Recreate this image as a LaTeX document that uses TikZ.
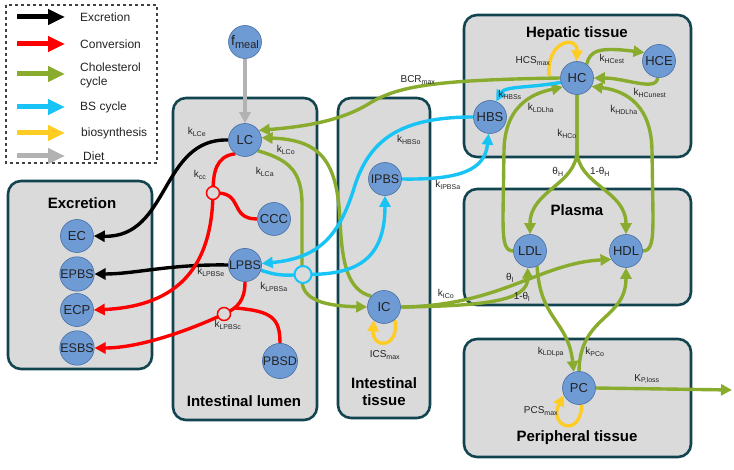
\documentclass[tikz,border=0pt]{standalone}
\usepackage{fontspec}
\setmainfont{Liberation Sans}
\usetikzlibrary{arrows.meta}
\definecolor{cgreen}{RGB}{138,172,46}
\definecolor{cblue}{RGB}{24,196,245}
\definecolor{cyel}{RGB}{255,204,36}
\definecolor{cred}{RGB}{255,0,0}
\definecolor{cgray}{RGB}{178,178,178}
\definecolor{boxfill}{RGB}{218,218,218}
\definecolor{boxline}{RGB}{18,68,80}
\definecolor{nodefill}{RGB}{111,155,212}
\definecolor{nodeedge}{RGB}{70,110,165}
\definecolor{txt}{RGB}{35,35,35}
\pgfdeclarelayer{bg}
\pgfdeclarelayer{mid}
\pgfsetlayers{bg,mid,main}
\begin{document}
\begin{tikzpicture}[x=1pt,y=1pt,
  region/.style={draw=boxline, line width=2.6pt, fill=boxfill, rounded corners=13pt},
  legbox/.style={draw=black!75, line width=1.3pt, dash pattern=on 3pt off 3pt},
  cmp/.style={circle, fill=nodefill, draw=nodeedge, line width=0.6pt, minimum size=33pt, inner sep=0pt, font=\fontsize{13}{13}\selectfont, text=txt},
  cmps/.style={cmp, font=\fontsize{12.5}{12.5}\selectfont},
  title/.style={font=\fontsize{15}{17}\selectfont\bfseries, text=black, align=center},
  rate/.style={font=\fontsize{10}{10}\selectfont, inner sep=0pt, text=txt},
  legtext/.style={font=\fontsize{12}{14}\selectfont, anchor=west, align=left, text=txt, inner sep=0pt},
  flow/.style={line width=3.4pt, -{Triangle[length=11pt,width=11pt]}},
  plain/.style={line width=3.4pt},
  legarrow/.style={line width=5pt, -{Triangle[length=17pt,width=15pt]}},
  rjunc/.style={circle, draw=cred, line width=1.5pt, fill=boxfill, minimum size=13pt, inner sep=0pt},
  bjunc/.style={circle, draw=cblue, line width=2pt, fill=boxfill, minimum size=17pt, inner sep=0pt}
]
\useasboundingbox (0,0) rectangle (734,-470);
\begin{pgfonlayer}{bg}
  \draw[region] (8,-181) rectangle (152,-369);
  \draw[region] (173,-98) rectangle (317,-420);
  \draw[region] (338,-98) rectangle (430,-418);
  \draw[region] (464,-15) rectangle (691,-157);
  \draw[region] (464,-189) rectangle (691,-305);
  \draw[region] (464,-339) rectangle (691,-457);
  \draw[legbox] (6,-5) rectangle (157,-163);
\end{pgfonlayer}

% legend
\foreach \y/\c/\n in {17/black/1, 44/cred/2, 74/cgreen/3, 107/cblue/4, 133/cyel/5, 156/cgray/6} {
  \coordinate (ls\n) at (17,-\y);
  \coordinate (le\n) at (65,-\y);
  \draw[legarrow, \c] (ls\n) -- (le\n);
}
\node[legtext] (lt1) at (80,-17) {Excretion};
\node[legtext] (lt2) at (80,-44) {Conversion};
\node[legtext] (lt3) at (80,-75) {Cholesterol\\cycle};
\node[legtext] (lt4) at (80,-107) {BS cycle};
\node[legtext] (lt5) at (81,-133) {biosynthesis};
\node[legtext] (lt6) at (83,-156) {Diet};

% titles
\node[title] (tEx) at (82,-203) {Excretion};
\node[title] (tLu) at (244,-401) {Intestinal lumen};
\node[title] (tIt) at (384,-392) {Intestinal\\tissue};
\node[title] (tHe) at (577,-34) {Hepatic tissue};
\node[title] (tPl) at (577,-210) {Plasma};
\node[title] (tPe) at (577,-438) {Peripheral tissue};

% nodes
\node[cmp] (fmeal) at (245,-42) {{\fontsize{14}{14}\selectfont f}\raisebox{-3pt}{\fontsize{11}{11}\selectfont meal}};
\node[cmp] (LC) at (245,-140) {LC};
\node[cmp] (CCC) at (274,-219) {CCC};
\node[cmps] (LPBS) at (245,-265) {LPBS};
\node[cmps] (PBSD) at (280,-361) {PBSD};
\node[cmps] (IPBS) at (385,-179) {IPBS};
\node[cmp] (IC) at (384,-307) {IC};
\node[cmp] (HC) at (577,-78) {HC};
\node[cmp] (HCE) at (659,-61) {HCE};
\node[cmp] (HBS) at (490,-117) {HBS};
\node[cmp] (LDL) at (530,-251) {LDL};
\node[cmp] (HDL) at (626,-251) {HDL};
\node[cmp] (PC) at (579,-388) {PC};
\node[cmp] (EC) at (77,-236) {EC};
\node[cmps] (EPBS) at (77,-274) {EPBS};
\node[cmp] (ECP) at (77,-310) {ECP};
\node[cmps] (ESBS) at (77,-348) {ESBS};

% junctions
\node[rjunc] (j1) at (213,-193) {};
\node[rjunc] (j2) at (224,-314) {};
\node[bjunc] (j3) at (303,-274.5) {};
\coordinate (jb) at (235,-308);
\coordinate (hcs) at (549,-76);
\coordinate (pout) at (732,-390);

\begin{pgfonlayer}{mid}
  % diet
  \draw[flow, cgray] (fmeal) -- (LC);
  % excretion
  \draw[flow, black] (LC.west) .. controls (160,-138) and (170,-238) .. (EC.east);
  \draw[flow, black] (LPBS.west) .. controls (170,-264) and (135,-274) .. (EPBS.east);
  % conversion
  \draw[flow, cred] (LC.235) .. controls (216,-156) and (213,-172) .. (j1.center) .. controls (212,-265) and (180,-306) .. (ECP.east);
  \draw[plain, cred] (j1.center) .. controls (245,-191) and (228,-219) .. (CCC.west);
  \draw[flow, cred] (LPBS.south) .. controls (245,-300) and (238,-308) .. (j2.center) .. controls (190,-330) and (140,-348) .. (ESBS.east);
  \draw[plain, cred] (jb) .. controls (272,-311) and (280,-318) .. (PBSD.north);
  % cholesterol cycle
  \draw[flow, cgreen] (HC.west) .. controls (440,-80) and (400,-85) .. (370,-103) .. controls (340,-122) and (300,-127) .. (LC.35);
  \draw[flow, cgreen] (IC.140) .. controls (348,-290) and (342,-265) .. (340,-220) .. controls (337,-160) and (320,-140) .. (LC.8);
  \draw[flow, cgreen] (LC.-40) .. controls (290,-160) and (302,-172) .. (302,-205) -- (302,-280) .. controls (302,-300) and (325,-306) .. (IC.west);
  \draw[flow, cgreen] (IC.east) .. controls (490,-306) and (528,-300) .. (LDL.262);
  \draw[flow, cgreen] (IC.east) .. controls (500,-306) and (540,-263) .. (HDL.210);
  \draw[flow, cgreen] (HC.south) -- (577,-150) .. controls (577,-185) and (530,-190) .. (LDL.north);
  \draw[flow, cgreen] (HC.south) -- (577,-150) .. controls (577,-185) and (626,-190) .. (HDL.north);
  \draw[flow, cgreen] (LDL.west) .. controls (504,-251) and (503,-240) .. (503,-215) -- (504,-150) .. controls (505,-100) and (540,-92) .. (HC.212);
  \draw[flow, cgreen] (HDL.east) .. controls (652,-251) and (653,-240) .. (653,-215) -- (652,-150) .. controls (651,-100) and (620,-90) .. (HC.-30);
  \draw[flow, cgreen] (HC.55) .. controls (590,-50) and (600,-47) .. (HCE.150);
  \draw[flow, cgreen] (HCE.-95) .. controls (657,-92) and (625,-78) .. (HC.east);
  \draw[flow, cgreen] (LDL.-65) .. controls (540,-320) and (568,-320) .. (PC.108);
  \draw[flow, cgreen] (PC.north) .. controls (580,-315) and (626,-320) .. (HDL.south);
  \draw[flow, cgreen] (PC.east) -- (pout);
  % biosynthesis
  \draw[flow, cyel] (hcs) .. controls (546,-40) and (578,-35) .. (HC.92);
  \draw[flow, cyel] (IC.-50) .. controls (400,-348) and (372,-350) .. (IC.-128);
  \draw[flow, cyel] (PC.-80) .. controls (580,-440) and (548,-425) .. (PC.205);
  % BS cycle
  \draw[flow, cblue] (HC.195) .. controls (530,-88) and (505,-86) .. (HBS.68);
  \draw[flow, cblue] (HBS.west) .. controls (400,-117) and (370,-140) .. (355,-185) .. controls (340,-235) and (320,-258) .. (LPBS.5);
  \draw[flow, cblue] (LPBS.-18) .. controls (280,-277) and (290,-275) .. (j3.center) .. controls (350,-275) and (385,-265) .. (IPBS.south);
  \draw[flow, cblue] (IPBS.east) .. controls (460,-180) and (485,-170) .. (HBS.-95);
\end{pgfonlayer}

% rate labels
\node[rate] (rLCe) at (197,-132) {k\textsubscript{LCe}};
\node[rate] (rcc) at (200,-175) {k\textsubscript{cc}};
\node[rate] (rLCa) at (265,-172) {k\textsubscript{LCa}};
\node[rate] (rLCo) at (286,-150) {k\textsubscript{LCo}};
\node[rate] (rLPBSe) at (211,-272) {k\textsubscript{LPBSe}};
\node[rate] (rLPBSa) at (274,-287) {k\textsubscript{LPBSa}};
\node[rate] (rLPBSc) at (228,-325) {k\textsubscript{LPBSc}};
\node[rate] (rHBSo) at (409,-140) {k\textsubscript{HBSo}};
\node[rate] (rIPBSa) at (448,-185) {k\textsubscript{IPBSa}};
\node[rate] (rICS) at (385,-355) {ICS\textsubscript{max}};
\node[rate] (rICo) at (446,-294) {k\textsubscript{ICo}};
\node[rate] (rBCR) at (418,-80) {BCR\textsubscript{max}};
\node[rate] (rHCS) at (533,-61) {HCS\textsubscript{max}};
\node[rate] (rHCest) at (612,-59) {k\textsubscript{HCest}};
\node[rate] (rHCunest) at (650,-93) {k\textsubscript{HCunest}};
\node[rate] (rHBSs) at (510,-95) {k\textsubscript{HBSs}};
\node[rate] (rLDLha) at (541,-108) {k\textsubscript{LDLha}};
\node[rate] (rHDLha) at (624,-110) {k\textsubscript{HDLha}};
\node[rate] (rHCo) at (567,-134) {k\textsubscript{HCo}};
\node[rate] (rthH) at (558,-172) {θ\textsubscript{H}};
\node[rate] (rthH2) at (600,-172) {1-θ\textsubscript{H}};
\node[rate] (rthl) at (510,-278) {θ\textsubscript{l}};
\node[rate] (rthl2) at (522,-297) {1-θ\textsubscript{l}};
\node[rate] (rLDLpa) at (551,-352) {k\textsubscript{LDLpa}};
\node[rate] (rPCo) at (595,-352) {k\textsubscript{PCo}};
\node[rate] (rPloss) at (647,-379) {K\textsubscript{P,loss}};
\node[rate] (rPCS) at (541,-411) {PCS\textsubscript{max}};
\end{tikzpicture}
\end{document}
